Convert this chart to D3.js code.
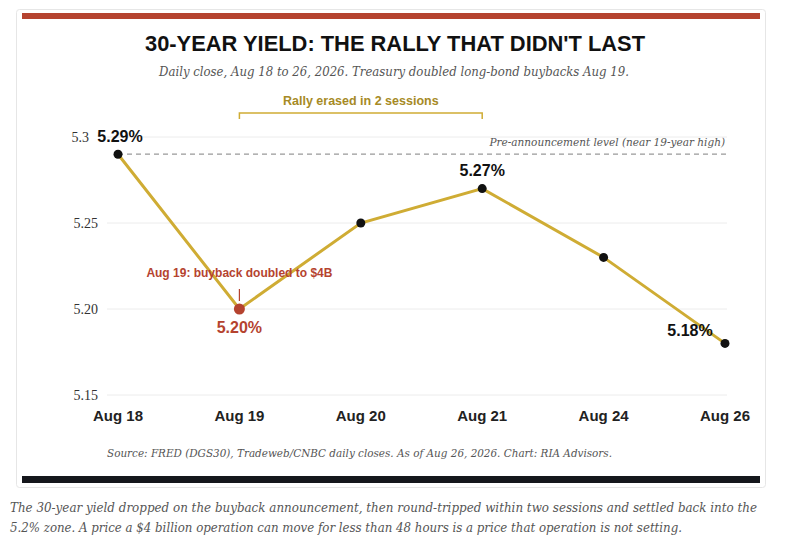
<!DOCTYPE html>
<html><head><meta charset="utf-8">
<script src="https://cdn.jsdelivr.net/npm/d3@7"></script>
<style>body{margin:0;background:#fff;}</style>
</head><body>
<svg id="c" width="793" height="554"></svg>
<script>
const categories = ["Aug 18","Aug 19","Aug 20","Aug 21","Aug 24","Aug 26"];
const yields = [5.29, 5.20, 5.25, 5.27, 5.23, 5.18];
const yTicks = [5.15, 5.20, 5.25, 5.3];
const yTickLabels = ["5.15","5.20","5.25","5.3"];
const preLevel = 5.29;
const labeled = [{i:0,t:"5.29%",dx:2,dy:-12},{i:1,t:"5.20%",dx:0,dy:24},{i:3,t:"5.27%",dx:0,dy:-13},{i:5,t:"5.18%",dx:-35,dy:-7}];

const svg = d3.select("#c");
const gold="#cfac34", red="#b5432f";
svg.append("rect").attr("x",16.5).attr("y",9.5).attr("width",749).attr("height",478).attr("rx",3).attr("fill","#fff").attr("stroke","#e6e6e6");
svg.append("rect").attr("x",22).attr("y",13).attr("width",738).attr("height",6).attr("fill",red);
svg.append("rect").attr("x",22).attr("y",476).attr("width",738).attr("height",7).attr("fill","#15171c");

svg.append("text").attr("x",145).attr("y",51).attr("textLength",500).attr("lengthAdjust","spacingAndGlyphs")
 .style("font-family","'Liberation Sans',Arial,sans-serif").style("font-weight","bold").style("font-size","22px").attr("fill","#111")
 .text("30-YEAR YIELD: THE RALLY THAT DIDN'T LAST");
svg.append("text").attr("x",159).attr("y",76).attr("textLength",470).attr("lengthAdjust","spacingAndGlyphs")
 .style("font-family","'DejaVu Serif',serif").style("font-style","italic").style("font-size","12px").attr("fill","#555")
 .text("Daily close, Aug 18 to 26, 2026. Treasury doubled long-bond buybacks Aug 19.");

const x = d3.scalePoint().domain(categories).range([118,725]);
const y = d3.scaleLinear().domain([5.15,5.3]).range([395,137]);

svg.append("g").selectAll("line").data(yTicks).join("line")
 .attr("x1",107).attr("x2",727).attr("y1",d=>y(d)).attr("y2",d=>y(d)).attr("stroke","#ececec");
svg.append("g").selectAll("text").data(yTicks).join("text")
 .attr("x",d=>d===5.3?89:98).attr("y",d=>y(d)+5).attr("text-anchor","end")
 .style("font-family","'Liberation Serif',serif").style("font-size","14px").attr("fill","#333")
 .text((d,i)=>yTickLabels[i]);
svg.append("g").selectAll("text").data(categories).join("text")
 .attr("x",d=>x(d)).attr("y",421).attr("text-anchor","middle")
 .style("font-family","'Liberation Sans',Arial,sans-serif").style("font-weight","bold").style("font-size","15px").attr("fill","#222")
 .text(d=>d);

svg.append("line").attr("x1",x(categories[0])).attr("x2",727).attr("y1",y(preLevel)).attr("y2",y(preLevel))
 .attr("stroke","#999").attr("stroke-dasharray","5,4").attr("stroke-width",1.3);
svg.append("text").attr("x",725).attr("y",y(preLevel)-8).attr("text-anchor","end")
 .style("font-family","'DejaVu Serif',serif").style("font-style","italic").style("font-size","10.5px").attr("fill","#555")
 .text("Pre-announcement level (near 19-year high)");

const bx1=x(categories[1]), bx2=x(categories[3]);
svg.append("path").attr("d",`M${bx1},119V113H${bx2}V119`).attr("fill","none").attr("stroke",gold).attr("stroke-width",1.5);
svg.append("text").attr("x",(bx1+bx2)/2).attr("y",105).attr("text-anchor","middle")
 .style("font-family","'Liberation Sans',sans-serif").style("font-weight","bold").style("font-size","12.5px").attr("fill","#a68a25")
 .text("Rally erased in 2 sessions");

svg.append("path").datum(yields).attr("fill","none").attr("stroke",gold).attr("stroke-width",3)
 .attr("d",d3.line().x((d,i)=>x(categories[i])).y(d=>y(d)));
svg.append("g").selectAll("circle").data(yields).join("circle")
 .attr("cx",(d,i)=>x(categories[i])).attr("cy",d=>y(d)).attr("r",(d,i)=>i==1?5.5:4.5)
 .attr("fill",(d,i)=>i==1?red:"#111");

const ax=x(categories[1]), ay=y(yields[1]);
svg.append("line").attr("x1",ax).attr("x2",ax).attr("y1",ay-20).attr("y2",ay-8).attr("stroke",red).attr("stroke-width",1.2);
svg.append("text").attr("x",ax).attr("y",ay-32).attr("text-anchor","middle")
 .style("font-family","'Liberation Sans',Arial,sans-serif").style("font-weight","bold").style("font-size","12px").attr("fill",red)
 .text("Aug 19: buyback doubled to $4B");

svg.append("g").selectAll("text").data(labeled).join("text")
 .attr("x",d=>x(categories[d.i])+d.dx).attr("y",d=>y(yields[d.i])+d.dy).attr("text-anchor","middle")
 .style("font-family","'Liberation Sans',Arial,sans-serif").style("font-weight","bold").style("font-size","16px")
 .attr("fill",d=>d.i==1?red:"#111").text(d=>d.t);

svg.append("text").attr("x",107).attr("y",457).attr("textLength",505).attr("lengthAdjust","spacingAndGlyphs")
 .style("font-family","'DejaVu Serif',serif").style("font-style","italic").style("font-size","10.5px").attr("fill","#555")
 .text("Source: FRED (DGS30), Tradeweb/CNBC daily closes. As of Aug 26, 2026. Chart: RIA Advisors.");
const cap=["The 30-year yield dropped on the buyback announcement, then round-tripped within two sessions and settled back into the","5.2% zone. A price a $4 billion operation can move for less than 48 hours is a price that operation is not setting."];
const capLen=[747,672];
svg.append("g").selectAll("text").data(cap).join("text").attr("x",10).attr("y",(d,i)=>512+i*20)
 .attr("textLength",(d,i)=>capLen[i]).attr("lengthAdjust","spacingAndGlyphs")
 .style("font-family","'DejaVu Serif',serif").style("font-style","italic").style("font-size","12px").attr("fill","#555").text(d=>d);
</script>
</body></html>
